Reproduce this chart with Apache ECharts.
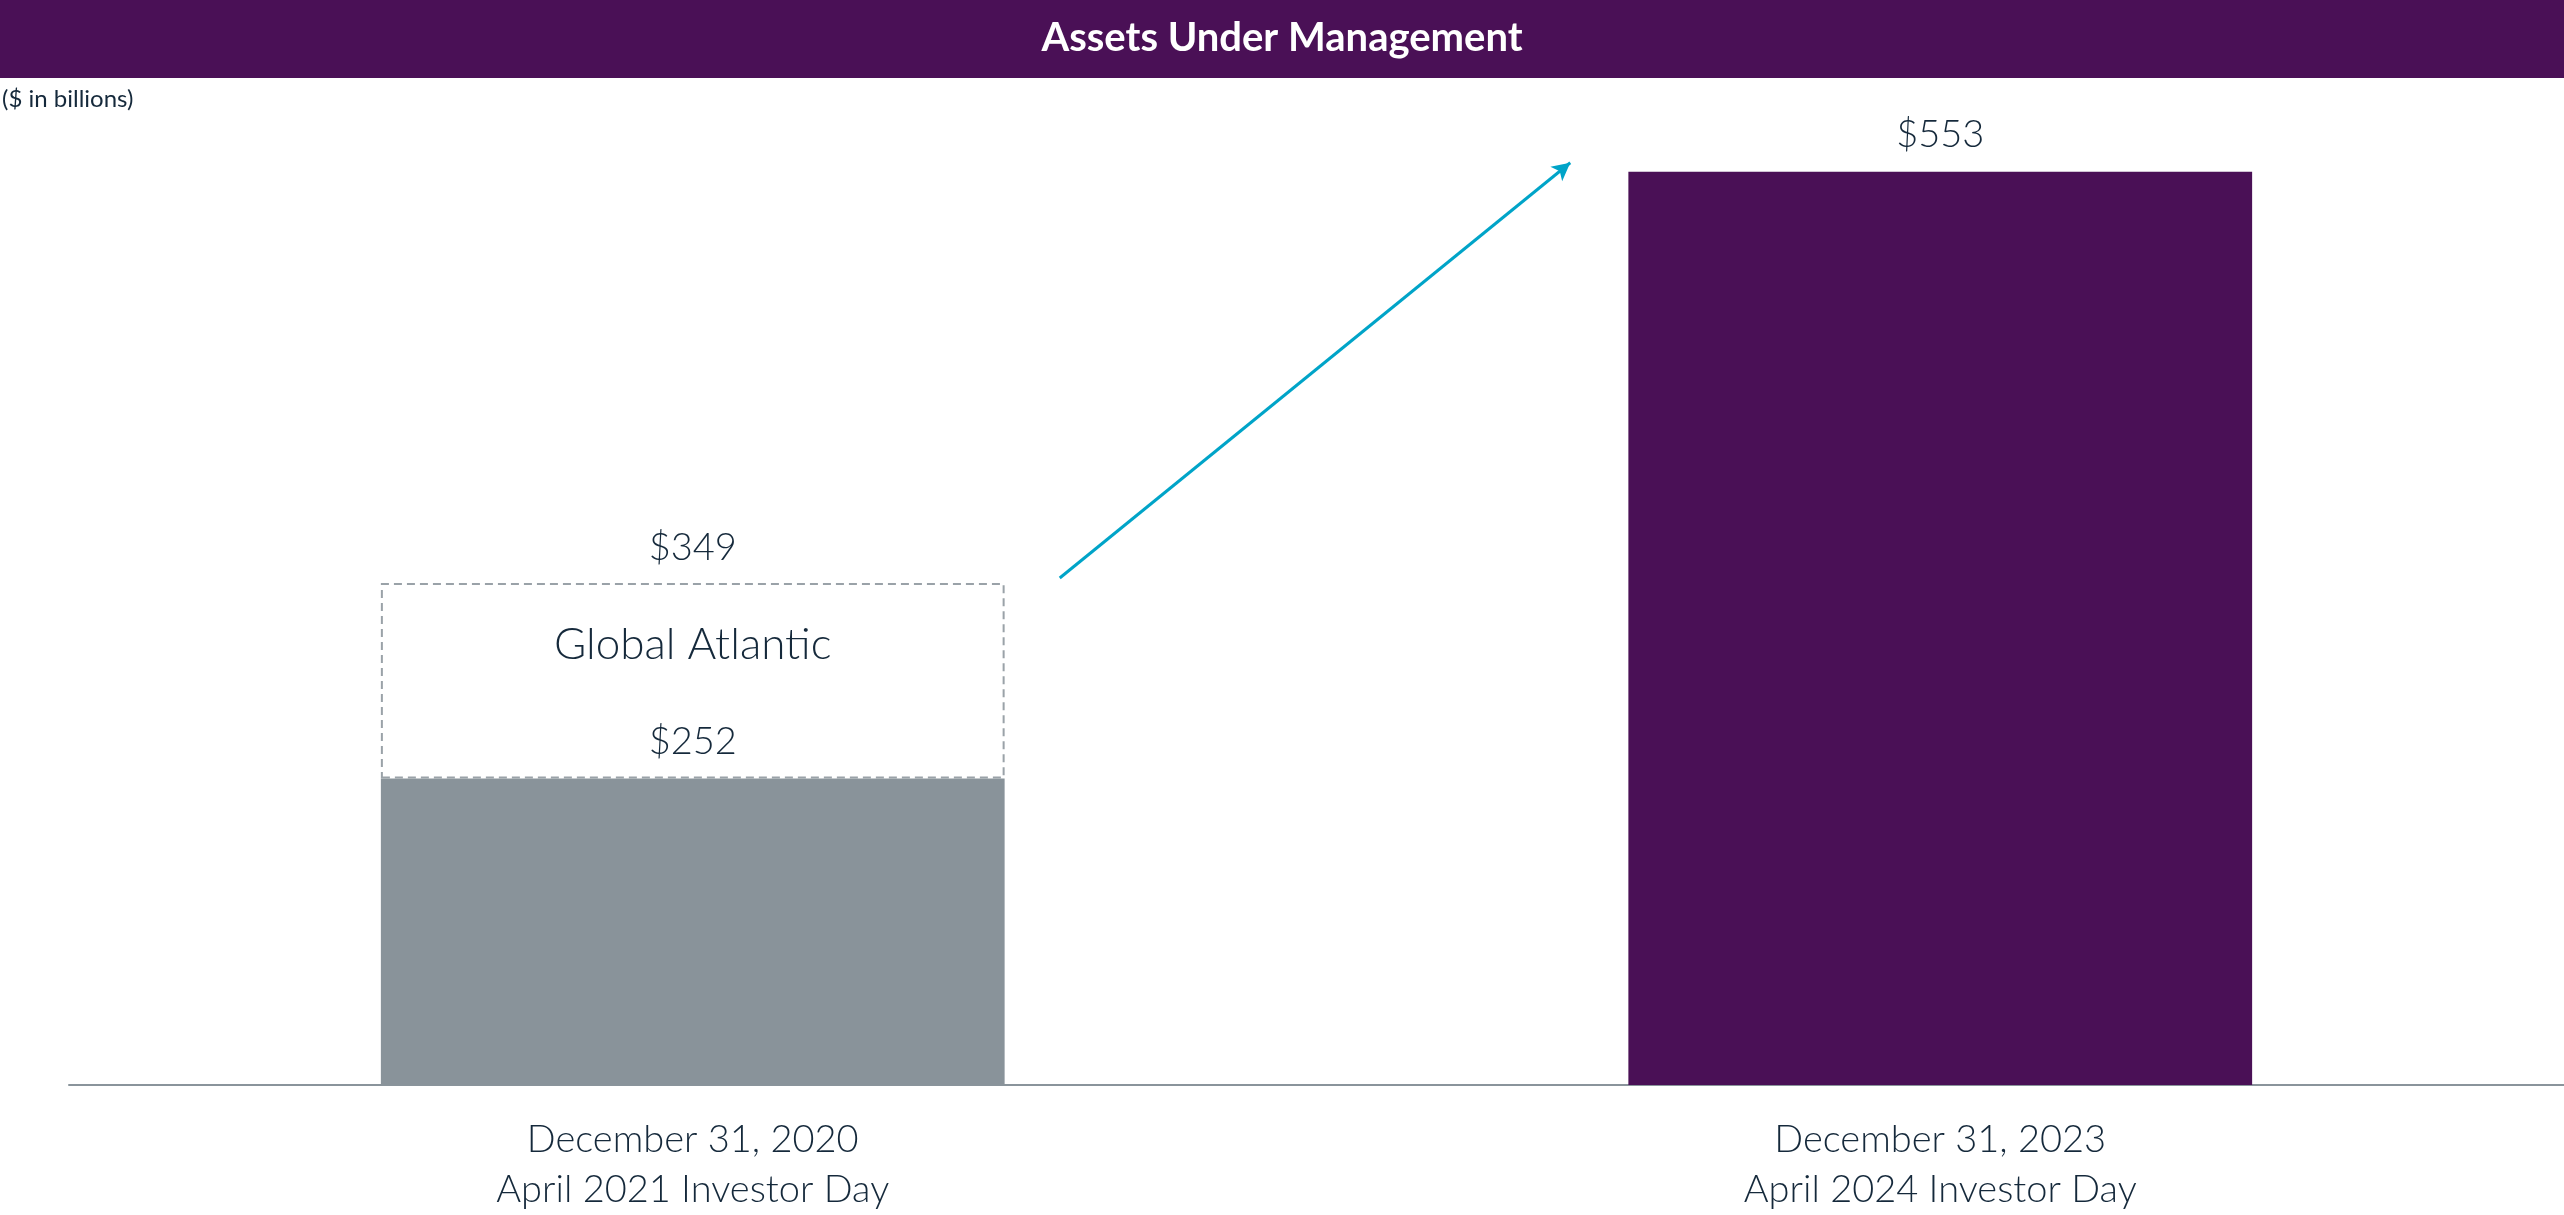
<!DOCTYPE html>
<html>
<head>
<meta charset="utf-8">
<title>Assets Under Management</title>
<script src="https://cdn.jsdelivr.net/npm/echarts@6/dist/echarts.min.js"></script>
<style>
  html, body { margin: 0; padding: 0; background: #fff; }
  #main { width: 2564px; height: 1215px; }
</style>
</head>
<body>
<div id="main"></div>
<script>
// ---- data ($ in billions) ----
const categories = ['December 31, 2020\nApril 2021 Investor Day', 'December 31, 2023\nApril 2024 Investor Day'];
const aum = [252, 553];            // reported AUM
const withGlobalAtlantic = [349, null]; // pro forma incl. Global Atlantic
const addonLabel = 'Global Atlantic';

const purple = '#4a1056';
const grey = '#89939a';
const ink = '#15293b';
const teal = '#00a4c8';
const font = 'Lato';

// dashed add-on segment = total minus reported
const addon = withGlobalAtlantic.map((t, i) => (t == null ? '-' : t - aum[i]));

const chart = echarts.init(document.getElementById('main'));

const option = {
    animation: false,
    textStyle: { fontFamily: font },
    graphic: [
        {
            type: 'rect',
            z: 0,
            shape: { x: 0, y: 0, width: 2564, height: 78 },
            style: { fill: purple }
        }
    ],
    title: [
        {
            text: 'Assets Under Management',
            left: 'center',
            top: 18,
            padding: 0,
            textStyle: { color: '#fff', fontSize: 40, fontWeight: 'bold', fontFamily: font }
        },
        {
            text: '($ in billions)',
            left: 2,
            top: 87,
            padding: 0,
            textStyle: { color: ink, fontSize: 24, fontWeight: 'normal', fontFamily: font }
        }
    ],
    grid: { left: 69, right: 0, top: 77, bottom: 130 },
    xAxis: {
        type: 'category',
        data: categories,
        axisLine: { lineStyle: { color: '#8a949b', width: 2 } },
        axisTick: { show: false },
        axisLabel: {
            color: ink,
            fontSize: 38,
            fontWeight: 300,
            lineHeight: 50,
            margin: 30,
            fontFamily: font
        }
    },
    yAxis: {
        type: 'value',
        min: 100,
        max: 600,
        show: false,
        splitLine: { show: false }
    },
    series: [
        {
            name: 'AUM',
            type: 'bar',
            stack: 'aum',
            barWidth: '50%',
            clip: true,
            data: aum.map((v, i) => ({
                value: v,
                itemStyle: { color: i === 0 ? grey : purple }
            })),
            label: {
                show: true,
                position: 'top',
                distance: 18,
                color: ink,
                fontSize: 38,
                fontWeight: 300,
                fontFamily: font,
                formatter: p => '$' + p.value
            }
        },
        {
            name: addonLabel,
            type: 'bar',
            stack: 'aum',
            barWidth: '50%',
            data: addon,
            itemStyle: {
                color: 'rgba(255,255,255,0)',
                borderColor: '#9aa2a8',
                borderWidth: 2,
                borderType: [8, 5]
            },
            label: {
                show: true,
                position: 'insideTop',
                distance: 40,
                color: ink,
                fontSize: 44,
                fontWeight: 300,
                fontFamily: font,
                formatter: addonLabel
            }
        },
        {
            name: 'Total',
            type: 'scatter',
            symbolSize: 0,
            itemStyle: { opacity: 1 },
            data: withGlobalAtlantic.map(v => (v == null ? '-' : v)),
            label: {
                show: true,
                position: 'top',
                distance: 16,
                color: ink,
                opacity: 1,
                fontSize: 38,
                fontWeight: 300,
                fontFamily: font,
                formatter: p => '$' + p.value
            }
        }
    ]
};

chart.setOption(option);

// growth arrow from the pro forma box to the latest bar
const from = chart.convertToPixel({ gridIndex: 0 }, [0, withGlobalAtlantic[0]]);
const to = chart.convertToPixel({ gridIndex: 0 }, [1, aum[1]]);
chart.setOption({
    series: [
        {},
        {},
        {
            markLine: {
                silent: true,
                symbol: ['none', 'arrow'],
                symbolSize: [14, 18],
                label: { show: false },
                lineStyle: { color: teal, width: 3, type: 'solid', opacity: 1 },
                data: [[
                    { x: from[0] + 367, y: from[1] - 5 },
                    { x: to[0] - 370, y: to[1] - 9 }
                ]]
            }
        }
    ]
});
</script>
</body>
</html>
